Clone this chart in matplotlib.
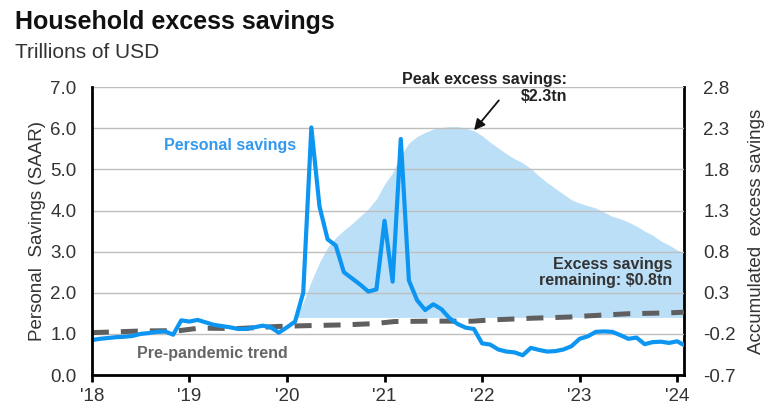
import matplotlib
matplotlib.use('Agg')
import matplotlib.pyplot as plt
import numpy as np

plt.rcParams['font.family'] = ['Liberation Sans', 'DejaVu Sans']

# monthly personal savings, SAAR, trillions USD (Jan 2018 - Feb 2024)
savings = [
    0.85, 0.88, 0.90, 0.92, 0.93, 0.95, 1.00, 1.02, 1.05, 1.06, 0.98, 1.33,  # 2018
    1.30, 1.34, 1.28, 1.22, 1.19, 1.16, 1.12, 1.12, 1.16, 1.20, 1.16, 1.03,  # 2019
    1.16, 1.30, 2.00, 6.02, 4.10, 3.30, 3.15, 2.50, 2.35, 2.20, 2.03, 2.08,  # 2020
    3.75, 2.27, 5.74, 2.30, 1.82, 1.58, 1.72, 1.60, 1.38, 1.24, 1.15, 1.12,  # 2021
    0.77, 0.74, 0.62, 0.57, 0.55, 0.48, 0.66, 0.61, 0.57, 0.58, 0.62, 0.70,  # 2022
    0.88, 0.94, 1.05, 1.06, 1.05, 0.97, 0.88, 0.91, 0.75, 0.80, 0.81, 0.78,  # 2023
    0.82, 0.71,                                                              # 2024
]
savings_t = [2018 + i / 12 for i in range(len(savings))]

# pre-pandemic trend
trend_t = [2018.0, 2018.5, 2018.9, 2019.1, 2019.5, 2019.9, 2020.2, 2020.6, 2020.9,
           2021.1, 2021.5, 2021.9, 2022.1, 2022.5, 2022.9, 2023.1, 2023.5, 2023.9, 2024.1]
trend = [1.03, 1.07, 1.08, 1.14, 1.13, 1.18, 1.20, 1.22, 1.25,
         1.30, 1.31, 1.31, 1.34, 1.38, 1.41, 1.44, 1.49, 1.51, 1.53]

# accumulated excess savings, trillions USD (Feb 2020 - Feb 2024)
excess = [
    0.00, 0.18, 0.44, 0.67, 0.85, 0.97, 1.06, 1.14, 1.23, 1.32, 1.44,        # 2020
    1.62, 1.76, 1.97, 2.12, 2.20, 2.25, 2.29, 2.31, 2.32, 2.32, 2.30, 2.27,  # 2021
    2.21, 2.13, 2.06, 1.99, 1.93, 1.88, 1.81, 1.72, 1.64, 1.57, 1.50, 1.43,  # 2022
    1.39, 1.36, 1.33, 1.28, 1.23, 1.20, 1.16, 1.11, 1.05, 1.00, 0.93, 0.88,  # 2023
    0.82, 0.78,                                                              # 2024
]
excess_t = [2020 + (i + 1) / 12 for i in range(len(excess))]

years = [2018, 2019, 2020, 2021, 2022, 2023, 2024]
year_labels = ["'18", "'19", "'20", "'21", "'22", "'23", "'24"]
left_ticks = [0, 1, 2, 3, 4, 5, 6, 7]
right_ticks = [-0.7, -0.2, 0.3, 0.8, 1.3, 1.8, 2.3, 2.8]

BLUE = '#0D95F2'
FILL = '#BCDFF8'
GREY = '#5F5F5F'
TXT = '#333333'

fig = plt.figure(figsize=(7.72, 4.19), dpi=100)
ax = fig.add_axes([0.119, 0.105, 0.767, 0.687])
ax2 = ax.twinx()

# shaded area on the right axis, kept behind the left axis
ax2.fill_between(excess_t, 0, excess, color=FILL, lw=0)
ax2.set_ylim(-0.7, 2.8)
ax2.set_yticks(right_ticks)
ax2.set_yticklabels(['%.1f' % v for v in right_ticks])
ax.set_zorder(ax2.get_zorder() + 1)
ax.patch.set_visible(False)

ax.plot(trend_t, trend, color=GREY, lw=3.6, dashes=(3.4, 2.4), solid_capstyle='butt')
ax.plot(savings_t, savings, color=BLUE, lw=3.0, solid_joinstyle='round')

ax.set_xlim(2018, 2024.07)
ax.set_ylim(0, 7)
ax.set_yticks(left_ticks)
ax.set_yticklabels(['%.1f' % v for v in left_ticks])
ax.set_xticks(years)
ax.set_xticklabels(year_labels)
ax.yaxis.grid(True, color='#BEBEBE', lw=1)
ax.set_axisbelow(True)

for a in (ax, ax2):
    a.spines['top'].set_visible(False)
    for s in ('left', 'right', 'bottom'):
        a.spines[s].set_linewidth(2)
        a.spines[s].set_color('black')
ax.spines['right'].set_visible(False)
ax2.spines['left'].set_visible(False)
ax2.spines['bottom'].set_visible(False)

ax.tick_params(axis='y', length=0, pad=11, labelsize=13.5, labelcolor=TXT)
ax.tick_params(axis='x', length=5, width=2, pad=4, labelsize=13.5, labelcolor=TXT, direction='out')
ax2.tick_params(axis='y', length=0, pad=14, labelsize=13.5, labelcolor=TXT)

ax.set_ylabel('Personal  Savings (SAAR)', fontsize=13.5, color=TXT)
ax2.set_ylabel('Accumulated  excess savings', fontsize=13.5, color=TXT)
ax.yaxis.set_label_coords(-0.077, 0.5)
ax2.yaxis.set_label_coords(1.108, 0.5)

# annotations
ax.text(2018.74, 5.59, 'Personal savings', color='#3399EE', fontsize=11.5,
        fontweight='bold', ha='left', va='center')
ax.text(2018.46, 0.53, 'Pre-pandemic trend', color='#666666', fontsize=11.5,
        fontweight='bold', ha='left', va='center')
ax.text(2022.87, 6.98, 'Peak excess savings:\n$2.3tn', color='#222222', fontsize=11.5,
        fontweight='bold', ha='right', va='center', multialignment='right',
        linespacing=1.1, clip_on=False)
ax.annotate('', xy=(2021.90, 5.9), xytext=(2022.19, 6.73),
            arrowprops=dict(arrowstyle='-|>', color='#111111', lw=1.3, mutation_scale=16))
ax.text(2023.95, 2.49, 'Excess savings\nremaining: $0.8tn', color=TXT, fontsize=11.5,
        fontweight='bold', ha='right', va='center', multialignment='right',
        linespacing=1.1)

fig.text(0.019, 1 - 22 / 419, 'Household excess savings', fontsize=18, fontweight='bold',
         color='#111111', ha='left', va='center')
fig.text(0.019, 1 - 52 / 419, 'Trillions of USD', fontsize=15, color=TXT,
         ha='left', va='center')

fig.savefig('out.png', dpi=100)
